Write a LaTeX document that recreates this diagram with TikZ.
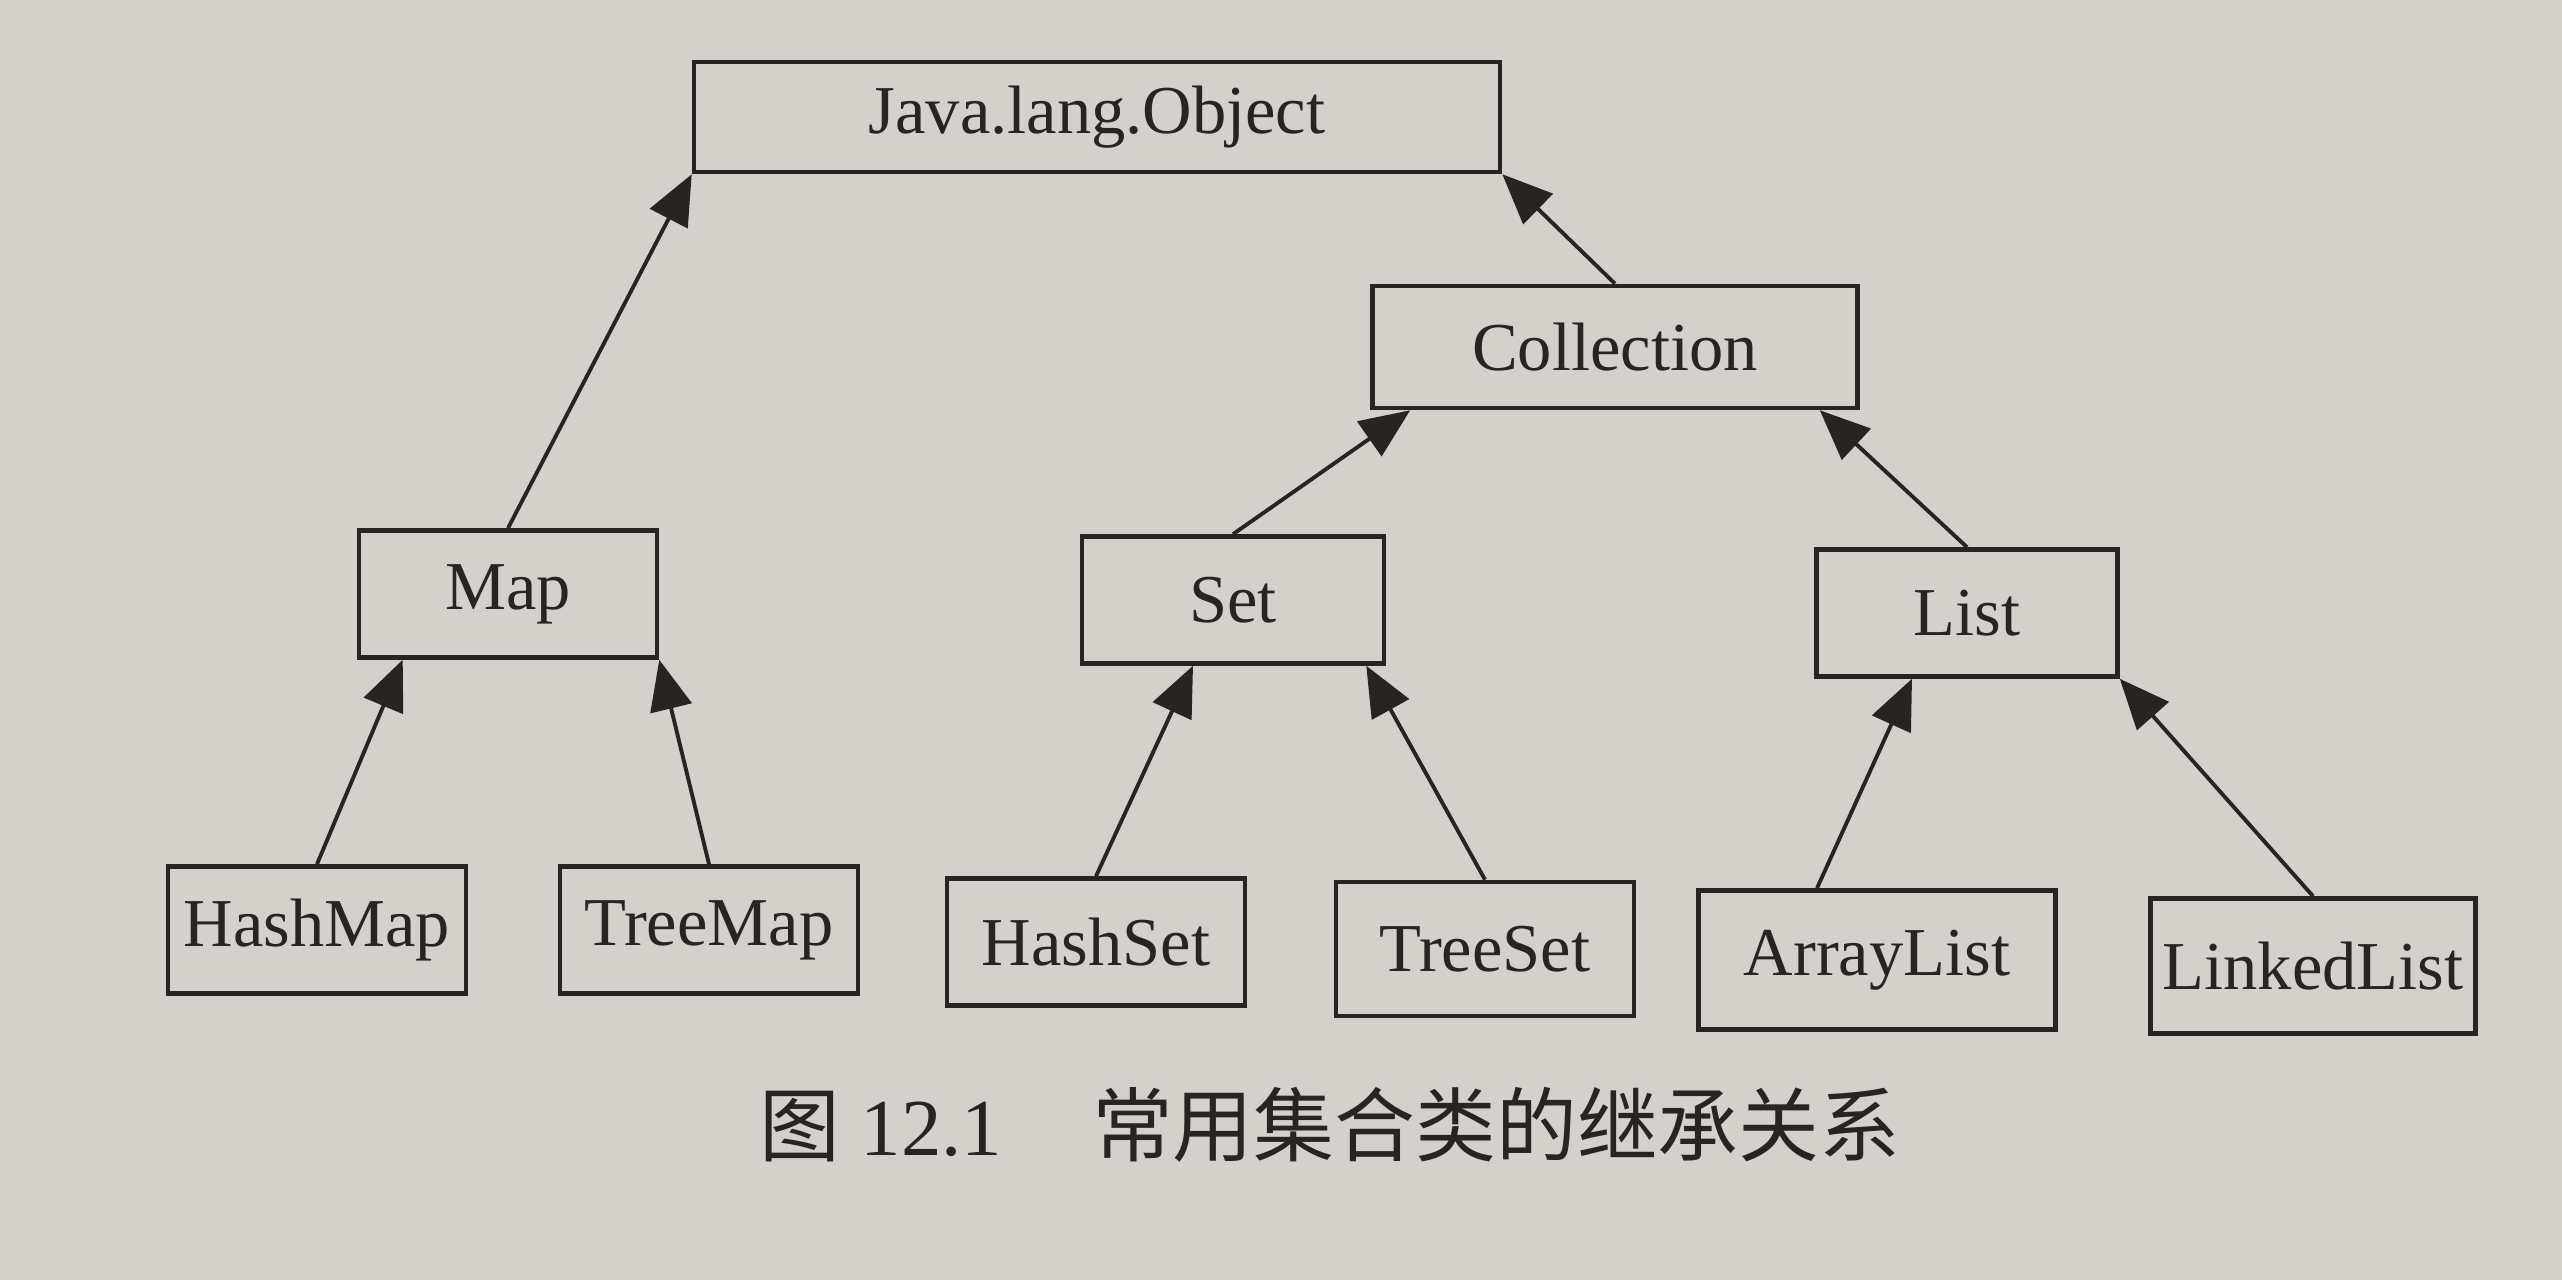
\documentclass[tikz,border=0pt]{standalone}
\usepackage{fontspec}
\setmainfont{Liberation Serif}
\newfontfamily\cjk{Noto Sans CJK SC}
\usetikzlibrary{arrows.meta}
\definecolor{paper}{RGB}{211,209,204}
\definecolor{ink}{RGB}{40,36,36}

\begin{document}
\begin{tikzpicture}[
	cls/.style={draw=ink,line width=1.3pt,text=ink,minimum width=2.98cm,minimum height=1.27cm,inner sep=0pt,font=\fontsize{19.5}{23}\selectfont},
	inh/.style={-{Triangle[length=0.5cm,width=0.42cm]},line width=1.1pt,draw=ink,fill=ink}]
			\fill[paper](0,0)rectangle(25.62,12.8);
			\useasboundingbox(0,0)rectangle(25.62,12.8);
			% top levels
			\node[cls,minimum width=8.06cm,minimum height=1.1cm](obj)at(10.97,11.63){Java.lang.Object};
			\node[cls,minimum width=4.85cm,minimum height=1.22cm](coll)at(16.15,9.33){Collection};
			\node[cls](map)at(5.08,6.86){Map};
			\node[cls,minimum width=3.02cm](set)at(12.33,6.80){Set};
			\node[cls,minimum width=3.01cm](list)at(19.67,6.67){List};
			% bottom row
			\node[cls](hmap)at(3.17,3.50){HashMap};
			\node[cls](tmap)at(7.09,3.50){TreeMap};
			\node[cls](hset)at(10.96,3.38){HashSet};
			\node[cls,minimum height=1.34cm](tset)at(14.85,3.31){TreeSet};
			\node[cls,minimum width=3.57cm,minimum height=1.39cm](alist)at(18.77,3.20){ArrayList};
			\node[cls,minimum width=3.25cm,minimum height=1.35cm](llist)at(23.13,3.14){LinkedList};
			\node[text=ink,font=\fontsize{23}{27}\selectfont](cap)at(13.30,1.55){{\cjk 图} 12.1\hspace{0.9cm}{\cjk 常用集合类的继承关系}};
			% arrows
			\draw[inh](map.north)--(obj.south west);
			\draw[inh](coll.north)--(obj.south east);
			\draw[inh](set.north)--([xshift=0.4cm]coll.south west);
			\draw[inh](list.north)--([xshift=-0.4cm]coll.south east);
			\draw[inh](hmap.north)--([xshift=0.46cm]map.south west);
			\draw[inh](tmap.north)--(map.south east);
			\draw[inh](hset.north)--([xshift=-0.4cm]set.south);
			\draw[inh](tset.north)--([xshift=-0.2cm]set.south east);
			\draw[inh]([xshift=-0.6cm]alist.north)--([xshift=-0.55cm]list.south);
			\draw[inh](llist.north)--(list.south east);
		\end{tikzpicture}
\end{document}
